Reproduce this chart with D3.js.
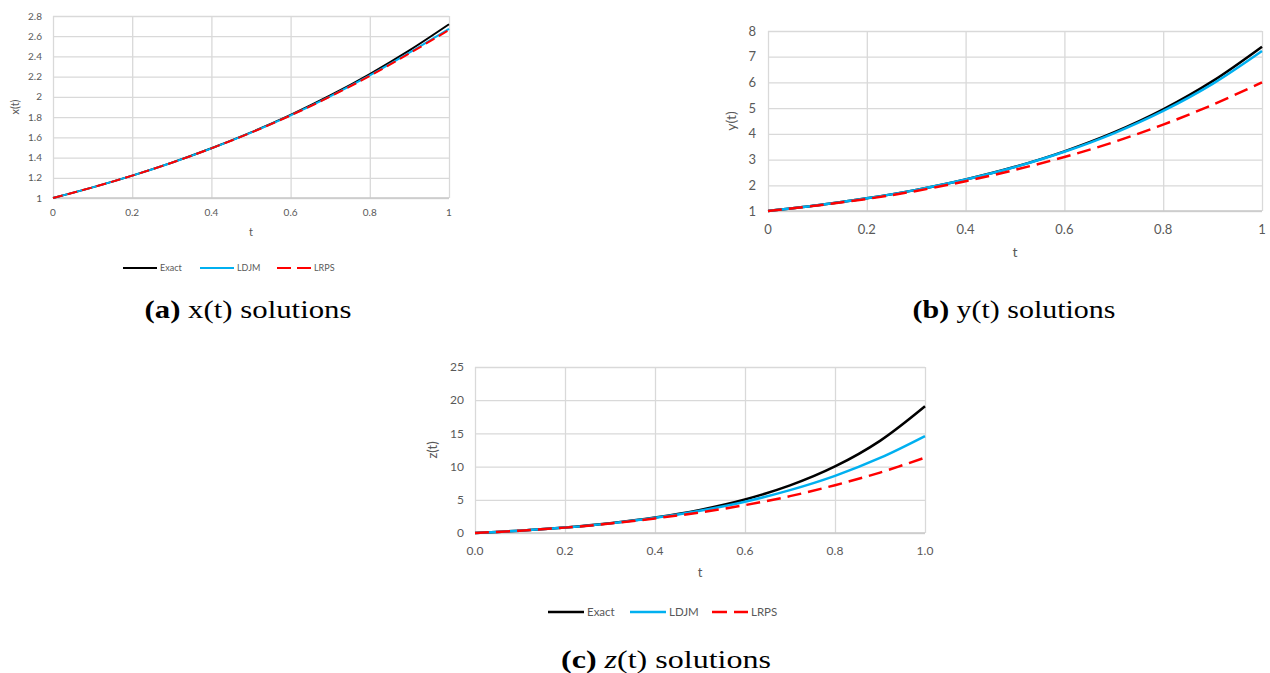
<!DOCTYPE html>
<html>
<head>
<meta charset="utf-8">
<script src="https://cdn.jsdelivr.net/npm/d3@7"></script>
<style>
  body { margin: 0; background: #fff; }
  text { font-family: Lato, "Open Sans", sans-serif; fill: #595959; }
  .caption { font-family: "Liberation Serif", "DejaVu Serif", serif; fill: #000; }
</style>
</head>
<body>
<div id="chart"></div>
<script>
var w = 1270;
var h = 673;

// sample points t = 0, 0.1, ..., 1
var tValues = [0, 0.1, 0.2, 0.3, 0.4, 0.5, 0.6, 0.7, 0.8, 0.9, 1];

var xExact = [1, 1.105, 1.221, 1.350, 1.492, 1.649, 1.822, 2.014, 2.226, 2.460, 2.718];
var xLDJM = [1, 1.105, 1.221, 1.349, 1.491, 1.647, 1.818, 2.006, 2.212, 2.437, 2.672];
var xLRPS = [1, 1.105, 1.221, 1.349, 1.491, 1.646, 1.816, 2.003, 2.207, 2.430, 2.662];

var yExact = [1, 1.221, 1.492, 1.822, 2.226, 2.718, 3.320, 4.055, 4.953, 6.050, 7.389];
var yLDJM = [1, 1.221, 1.492, 1.821, 2.222, 2.710, 3.302, 4.020, 4.890, 5.942, 7.22];
var yLRPS = [1, 1.215, 1.470, 1.780, 2.160, 2.600, 3.100, 3.680, 4.360, 5.130, 6.0];

var zExact = [0, 0.350, 0.822, 1.460, 2.320, 3.482, 5.050, 7.166, 10.023, 13.880, 19.086];
var zLDJM = [0, 0.35, 0.82, 1.45, 2.28, 3.36, 4.72, 6.45, 8.6, 11.3, 14.6];
var zLRPS = [0, 0.35, 0.81, 1.42, 2.2, 3.1, 4.2, 5.55, 7.2, 9.1, 11.35];

var seriesNames = ["Exact", "LDJM", "LRPS"];
var seriesColors = ["#000000", "#00b0f0", "#ff0000"];

var xTicksA = [1, 1.2, 1.4, 1.6, 1.8, 2, 2.2, 2.4, 2.6, 2.8];
var yTicksB = [1, 2, 3, 4, 5, 6, 7, 8];
var zTicksC = [0, 5, 10, 15, 20, 25];
var tTicks = [0, 0.2, 0.4, 0.6, 0.8, 1];

var svg = d3
  .select("#chart")
  .append("svg")
  .attr("width", w)
  .attr("height", h);

svg.append("rect").attr("width", w).attr("height", h).attr("fill", "#fff");

function panel(p) {
  var x = d3.scaleLinear().domain([0, 1]).range([p.left, p.right]);
  var y = d3.scaleLinear().domain(p.domain).range([p.bottom, p.top]);
  var g = svg.append("g");

  // grid
  g.append("g")
    .attr("transform", "translate(0," + p.bottom + ")")
    .call(d3.axisBottom(x).tickValues(tTicks).tickSize(p.top - p.bottom).tickFormat(""))
    .call(function(s) {
      s.select(".domain").remove();
      s.selectAll("line").attr("stroke", "#d9d9d9").attr("stroke-width", 1.3);
    });
  g.append("g")
    .attr("transform", "translate(" + p.left + ",0)")
    .call(d3.axisLeft(y).tickValues(p.ticks).tickSize(p.left - p.right).tickFormat(""))
    .call(function(s) {
      s.select(".domain").remove();
      s.selectAll("line").attr("stroke", "#d9d9d9").attr("stroke-width", 1.3);
    });
  g.append("line")
    .attr("x1", p.left).attr("x2", p.right)
    .attr("y1", p.bottom).attr("y2", p.bottom)
    .attr("stroke", "#c8c8c8")
    .attr("stroke-width", 1.3);

  // tick labels
  g.selectAll(".ylab")
    .data(p.ticks)
    .enter()
    .append("text")
    .attr("x", p.left - p.ylabGap)
    .attr("y", function(d) { return y(d); })
    .attr("dy", "0.35em")
    .attr("text-anchor", "end")
    .style("font-size", p.fs + "px")
    .text(p.yfmt);
  g.selectAll(".xlab")
    .data(tTicks)
    .enter()
    .append("text")
    .attr("x", function(d) { return x(d); })
    .attr("y", p.bottom + p.xlabOff)
    .attr("text-anchor", "middle")
    .style("font-size", p.fs + "px")
    .text(p.xfmt);

  g.append("text")
    .attr("x", (p.left + p.right) / 2)
    .attr("y", p.bottom + p.titleOff)
    .attr("text-anchor", "middle")
    .style("font-size", (p.fs + 1) + "px")
    .text("t");
  g.append("text")
    .attr("transform", "translate(" + p.ylabX + "," + (p.top + p.bottom) / 2 + ") rotate(-90)")
    .attr("text-anchor", "middle")
    .style("font-size", (p.fs + 1) + "px")
    .text(p.ylabel);

  var line = d3
    .line()
    .x(function(d, i) { return x(tValues[i]); })
    .y(function(d) { return y(d); })
    .curve(d3.curveCatmullRom);

  p.series.forEach(function(s, i) {
    g.append("path")
      .attr("d", line(s))
      .attr("fill", "none")
      .attr("stroke", seriesColors[i])
      .attr("stroke-width", p.lw)
      .attr("stroke-dasharray", i == 2 ? p.dash : null);
  });

  if (p.legend) {
    var lg = g.append("g").attr("transform", "translate(" + p.legend[0] + "," + p.legend[1] + ")");
    seriesNames.forEach(function(n, i) {
      var ox = i * p.legendStep;
      lg.append("line")
        .attr("x1", ox).attr("x2", ox + p.legendLen)
        .attr("y1", 0).attr("y2", 0)
        .attr("stroke", seriesColors[i])
        .attr("stroke-width", p.lw)
        .attr("stroke-dasharray", i == 2 ? p.legendDash : null);
      lg.append("text")
        .attr("x", ox + p.legendLen + 3)
        .attr("y", 0)
        .attr("dy", "0.35em")
        .style("font-size", p.legendFs + "px")
        .text(n);
    });
  }
}

function caption(cx, cy, len, label, v, italic) {
  var t = svg.append("text")
    .attr("class", "caption")
    .attr("x", cx - len / 2)
    .attr("y", cy)
    .attr("textLength", len)
    .attr("lengthAdjust", "spacingAndGlyphs")
    .style("font-size", "25px");
  t.append("tspan").style("font-weight", "bold").text("(" + label + ")");
  t.append("tspan").text(" ");
  t.append("tspan").style("font-style", italic ? "italic" : null).text(v);
  t.append("tspan").text("(t) solutions");
}

panel({
  left: 53, right: 449, top: 16, bottom: 198,
  domain: [1, 2.8], ticks: xTicksA,
  series: [xExact, xLDJM, xLRPS],
  fs: 10, ylabGap: 11, xlabOff: 18, titleOff: 38, ylabX: 19, ylabel: "x(t)",
  lw: 2, dash: "10,5",
  yfmt: function(d) { return String(+d.toFixed(1)); },
  xfmt: function(d) { return String(d); },
  legend: [123, 268], legendStep: 77, legendLen: 34, legendFs: 9, legendDash: "14,6"
});

panel({
  left: 768, right: 1262, top: 31, bottom: 211,
  domain: [1, 8], ticks: yTicksB,
  series: [yExact, yLDJM, yLRPS],
  fs: 13, ylabGap: 12, xlabOff: 23, titleOff: 46, ylabX: 736, ylabel: "y(t)",
  lw: 2.5, dash: "14,7",
  yfmt: function(d) { return String(d); },
  xfmt: function(d) { return String(d); }
});

panel({
  left: 475, right: 925, top: 367, bottom: 533,
  domain: [0, 25], ticks: zTicksC,
  series: [zExact, zLDJM, zLRPS],
  fs: 12, ylabGap: 11, xlabOff: 22, titleOff: 44, ylabX: 437, ylabel: "z(t)",
  lw: 2.5, dash: "14,7",
  yfmt: function(d) { return String(d); },
  xfmt: d3.format(".1f"),
  legend: [548, 612], legendStep: 82, legendLen: 36, legendFs: 11.5, legendDash: "15,7"
});

caption(248, 318, 207, "a", "x", false);
caption(1014, 318, 203, "b", "y", false);
caption(666, 668, 210, "c", "z", true);
</script>
</body>
</html>
